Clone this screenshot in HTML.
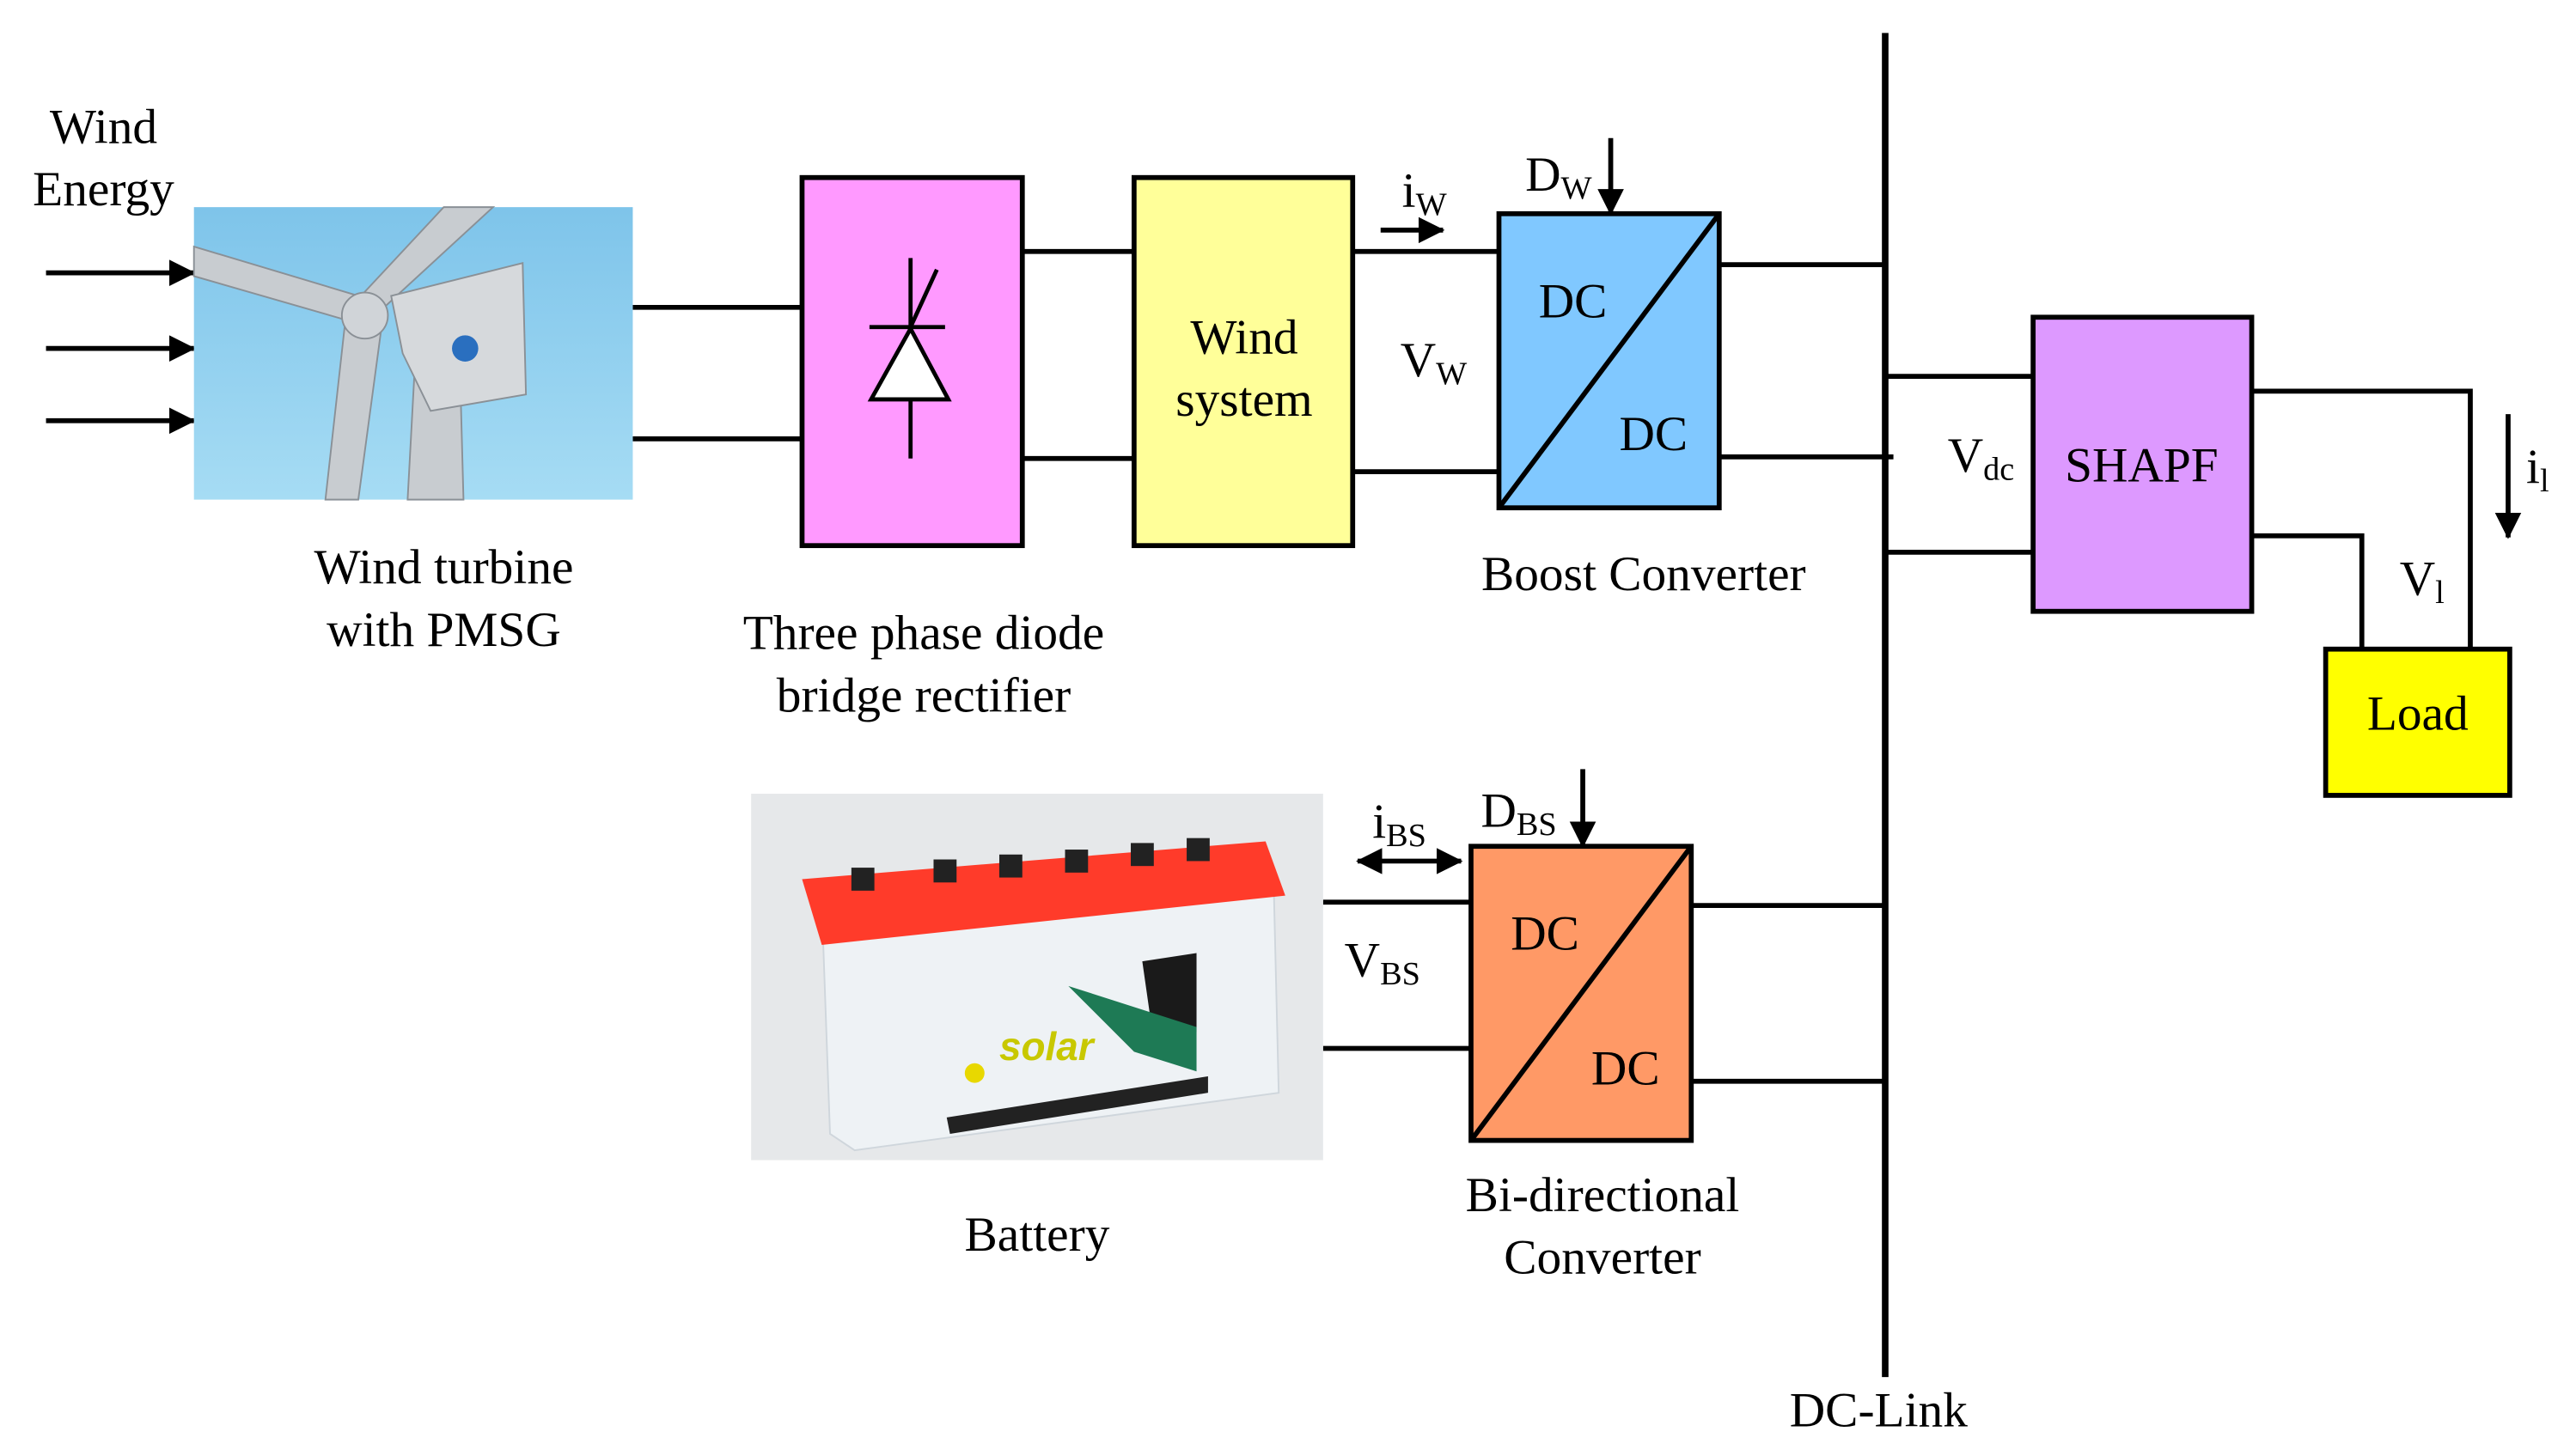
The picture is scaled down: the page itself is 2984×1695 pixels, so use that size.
<!DOCTYPE html>
<html><head><meta charset="utf-8"><style>
html,body{margin:0;padding:0;background:#fff;}
svg{display:block;}
text{font-family:"Liberation Serif",serif;font-size:30px;fill:#000;}
.s{font-size:20px;}
</style></head><body>
<svg width="2984" height="1695" viewBox="0 0 1560 886" xmlns="http://www.w3.org/2000/svg">
<defs>
<marker id="ab" markerWidth="16" markerHeight="16" refX="15" refY="8" orient="auto" markerUnits="userSpaceOnUse"><path d="M0,0 L16,8 L0,16 z" fill="#000"/></marker>
<marker id="as" markerWidth="16" markerHeight="16" refX="1" refY="8" orient="auto" markerUnits="userSpaceOnUse"><path d="M16,0 L0,8 L16,16 z" fill="#000"/></marker>
<linearGradient id="sky" x1="0" y1="0" x2="0" y2="1"><stop offset="0" stop-color="#7ec4ea"/><stop offset="1" stop-color="#a6dcf4"/></linearGradient>
</defs>
<g stroke="#000" stroke-width="3" fill="none">
<line x1="28" y1="166" x2="118" y2="166" marker-end="url(#ab)"/>
<line x1="28" y1="212" x2="118" y2="212" marker-end="url(#ab)"/>
<line x1="28" y1="256" x2="118" y2="256" marker-end="url(#ab)"/>
<line x1="385" y1="187" x2="488" y2="187"/>
<line x1="385" y1="267" x2="488" y2="267"/>
<line x1="622" y1="153" x2="690" y2="153"/>
<line x1="622" y1="279" x2="690" y2="279"/>
<line x1="823" y1="153" x2="912" y2="153"/>
<line x1="823" y1="287" x2="912" y2="287"/>
<line x1="1046" y1="161" x2="1147" y2="161"/>
<line x1="1046" y1="278" x2="1152" y2="278"/>
<line x1="1147" y1="229" x2="1237" y2="229"/>
<line x1="1147" y1="336" x2="1237" y2="336"/>
<polyline points="1370,238 1503,238 1503,395"/>
<polyline points="1370,326 1437,326 1437,395"/>
<line x1="805" y1="549" x2="895" y2="549"/>
<line x1="805" y1="638" x2="895" y2="638"/>
<line x1="1029" y1="551" x2="1147" y2="551"/>
<line x1="1025" y1="658" x2="1147" y2="658"/>
<line x1="1147" y1="20" x2="1147" y2="838" stroke-width="4"/>
<line x1="840" y1="140" x2="878" y2="140" marker-end="url(#ab)"/>
<line x1="980" y1="84" x2="980" y2="130" marker-end="url(#ab)"/>
<line x1="1526" y1="252" x2="1526" y2="327" marker-end="url(#ab)"/>
<line x1="963" y1="468" x2="963" y2="515" marker-end="url(#ab)"/>
<line x1="826" y1="524" x2="889" y2="524" marker-end="url(#ab)" marker-start="url(#as)"/>
</g>
<rect x="118" y="126" width="267" height="178" fill="url(#sky)"/>
<g fill="#c8ccd0" stroke="#8a9096" stroke-width="1">
<polygon points="248,304 282,304 280,230 252,230"/>
<polygon points="118,150 218,180 222,198 118,168"/>
<polygon points="198,304 218,304 232,200 210,196"/>
<polygon points="215,185 225,195 300,126 270,126"/>
<polygon points="238,180 318,160 320,240 262,250 245,215" fill="#d6d9dc"/>
<circle cx="222" cy="192" r="14" fill="#d0d4d8"/>
</g>
<circle cx="283" cy="212" r="8" fill="#2a6fbf"/>
<g stroke="#000" stroke-width="3">
<rect x="488" y="108" width="134" height="224" fill="#FF99FF"/>
<rect x="690" y="108" width="133" height="224" fill="#FFFF99"/>
<rect x="912" y="130" width="134" height="179" fill="#80C8FF"/>
<line x1="912" y1="309" x2="1046" y2="130"/>
<rect x="1237" y="193" width="133" height="179" fill="#DD99FF"/>
<rect x="1415" y="395" width="112" height="89" fill="#FFFF00"/>
<rect x="895" y="515" width="134" height="179" fill="#FF9966"/>
<line x1="895" y1="694" x2="1029" y2="515"/>
</g>
<g stroke="#000" stroke-width="2.5" fill="#fff">
<line x1="554" y1="157" x2="554" y2="279"/>
<polygon points="554,200 530,243 577,243"/>
<line x1="529" y1="199" x2="575" y2="199"/>
<line x1="554" y1="199" x2="570" y2="164"/>
</g>
<rect x="457" y="483" width="348" height="223" fill="#e6e8ea"/>
<polygon points="500,550 775,540 778,665 520,700 505,690" fill="#eef2f5" stroke="#cfd6dc"/>
<polygon points="488,535 770,512 782,545 500,575" fill="#ff3b2a"/>
<g fill="#222"><rect x="518" y="528" width="14" height="14"/><rect x="568" y="523" width="14" height="14"/><rect x="608" y="520" width="14" height="14"/><rect x="648" y="517" width="14" height="14"/><rect x="688" y="513" width="14" height="14"/><rect x="722" y="510" width="14" height="14"/>
<polygon points="576,680 735,655 735,665 578,690"/></g>
<polygon points="695,585 728,580 728,628 700,620" fill="#1a1a1a"/>
<polygon points="650,600 728,625 728,652 690,640" fill="#1e7a55"/>
<text x="608" y="645" style="font-family:'Liberation Sans',sans-serif;font-weight:bold;font-style:italic;font-size:24px;fill:#c8c800">solar</text>
<circle cx="593" cy="653" r="6" fill="#e8d800"/>
<g text-anchor="middle">
<text x="63" y="87">Wind</text>
<text x="63" y="125">Energy</text>
<text x="270" y="355">Wind turbine</text>
<text x="270" y="393">with PMSG</text>
<text x="562" y="395">Three phase diode</text>
<text x="562" y="433">bridge rectifier</text>
<text x="757" y="215">Wind</text>
<text x="757" y="253">system</text>
<text x="957" y="193">DC</text>
<text x="1006" y="274">DC</text>
<text x="1000" y="359">Boost Converter</text>
<text x="1303" y="293">SHAPF</text>
<text x="1471" y="444">Load</text>
<text x="940" y="578">DC</text>
<text x="989" y="660">DC</text>
<text x="631" y="761">Battery</text>
<text x="975" y="737">Bi-directional</text>
<text x="975" y="775">Converter</text>
<text x="1143" y="868">DC-Link</text>
</g>
<text x="853" y="126">i<tspan class="s" dy="5">W</tspan></text>
<text x="852" y="229">V<tspan class="s" dy="5">W</tspan></text>
<text x="928" y="116">D<tspan class="s" dy="5">W</tspan></text>
<text x="1185" y="287">V<tspan class="s" dy="5">dc</tspan></text>
<text x="1537" y="294">i<tspan class="s" dy="5">l</tspan></text>
<text x="1460" y="362">V<tspan class="s" dy="5">l</tspan></text>
<text x="835" y="510">i<tspan class="s" dy="5">BS</tspan></text>
<text x="901" y="503">D<tspan class="s" dy="5">BS</tspan></text>
<text x="818" y="594">V<tspan class="s" dy="5">BS</tspan></text>
</svg>
</body></html>
